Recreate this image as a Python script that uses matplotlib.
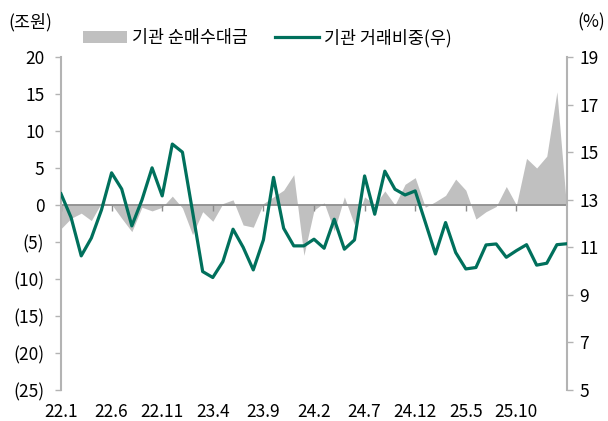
import numpy as np
import matplotlib
matplotlib.use('Agg')
import matplotlib.pyplot as plt

plt.rcParams['font.family'] = ['Noto Sans CJK KR', 'DejaVu Sans']

# 월별 데이터 (22.1 ~ 26.3)
months = ['22.1', '22.2', '22.3', '22.4', '22.5', '22.6', '22.7', '22.8', '22.9', '22.10',
          '22.11', '22.12', '23.1', '23.2', '23.3', '23.4', '23.5', '23.6', '23.7', '23.8',
          '23.9', '23.10', '23.11', '23.12', '24.1', '24.2', '24.3', '24.4', '24.5', '24.6',
          '24.7', '24.8', '24.9', '24.10', '24.11', '24.12', '25.1', '25.2', '25.3', '25.4',
          '25.5', '25.6', '25.7', '25.8', '25.9', '25.10', '25.11', '25.12', '26.1', '26.2',
          '26.3']
# 기관 순매수대금 (조원)
net_buy = [-3.2, -1.8, -1.1, -2.1, 0.3, 0.1, -1.8, -3.6, -0.3, -0.8,
           -0.3, 1.2, -0.4, -4.0, -0.9, -2.2, 0.2, 0.7, -2.7, -3.0,
           0.2, 1.1, 2.0, 4.1, -6.8, -0.7, 0.3, -3.5, 1.1, -2.7,
           1.1, 0.0, 1.9, 0.0, 2.8, 3.7, -0.3, 0.45, 1.3, 3.5,
           2.0, -1.9, -0.9, -0.2, 2.5, 0.0, 6.3, 5.0, 6.6, 15.3,
           -1.0]
# 기관 거래비중 (%, 우축)
share = [13.25, 12.25, 10.64, 11.39, 12.57, 14.13, 13.45, 11.9, 12.99, 14.34,
         13.16, 15.34, 15.0, 12.5, 9.98, 9.73, 10.4, 11.76, 11.0, 10.05,
         11.31, 13.94, 11.8, 11.06, 11.06, 11.34, 10.96, 12.18, 10.92, 11.31,
         14.0, 12.39, 14.2, 13.44, 13.2, 13.37, 12.05, 10.72, 12.04, 10.78,
         10.09, 10.15, 11.1, 11.14, 10.58, 10.86, 11.11, 10.25, 10.33, 11.11,
         11.15]

tick_idx = [0, 5, 10, 15, 20, 25, 30, 35, 40, 45]
left_ticks = [20, 15, 10, 5, 0, -5, -10, -15, -20, -25]
right_ticks = [19, 17, 15, 13, 11, 9, 7, 5]

x = np.arange(len(months))
area_col = '#c0c0c0'
line_col = '#00705c'
spine_col = '#b3b3b3'
fs = 12.5

fig = plt.figure(figsize=(6.08, 4.21), dpi=100)
ax = fig.add_axes([0.1003, 0.0736, 0.8323, 0.791])

ax.fill_between(x, net_buy, 0, color=area_col, linewidth=0, label='기관 순매수대금')
ax.axhline(0, color='#8c8c8c', lw=1.3, zorder=2)
ax.set_xlim(0, len(months) - 1)
ax.set_ylim(-25, 20)
ax.set_yticks(left_ticks)
ax.set_yticklabels([str(v) if v >= 0 else '(%d)' % (-v) for v in left_ticks], fontsize=fs)

# x축 눈금은 0선 위에, 라벨은 아래쪽에
ax.spines['bottom'].set_position(('data', 0))
ax.spines['bottom'].set_visible(False)
ax.spines['top'].set_visible(False)
ax.spines['right'].set_visible(False)
ax.spines['left'].set_color(spine_col)
ax.spines['left'].set_linewidth(1.5)
ax.set_xticks(tick_idx)
ax.tick_params(axis='x', length=4, width=1, color='#8c8c8c', labelbottom=False)
ax.tick_params(axis='y', length=4, width=1, color=spine_col, pad=8)

sec = ax.secondary_xaxis('bottom')
sec.set_xticks(tick_idx)
sec.set_xticklabels([months[i] for i in tick_idx], fontsize=fs)
sec.tick_params(length=0, pad=9)
sec.spines['bottom'].set_visible(False)

ax2 = ax.twinx()
ax2.plot(x, share, color=line_col, lw=2.3, label='기관 거래비중(우)', zorder=3)
ax2.set_ylim(5, 19)
ax2.set_yticks(right_ticks)
ax2.set_yticklabels([str(v) for v in right_ticks], fontsize=fs)
for s in ['top', 'bottom', 'left']:
    ax2.spines[s].set_visible(False)
ax2.spines['right'].set_color(spine_col)
ax2.spines['right'].set_linewidth(1.5)
ax2.tick_params(axis='y', length=4, width=1, color=spine_col, pad=5)

fig.text(0.013, 0.948, '(조원)', fontsize=fs, va='center', ha='left')
fig.text(0.995, 0.948, '(%)', fontsize=fs, va='center', ha='right')

h1, l1 = ax.get_legend_handles_labels()
h2, l2 = ax2.get_legend_handles_labels()
fig.legend(h1 + h2, l1 + l2, loc='center', bbox_to_anchor=(0.44, 0.91), ncol=2,
           frameon=False, fontsize=fs, handlelength=2.5, handletextpad=0.3,
           columnspacing=1.6)

fig.savefig('out.png', dpi=100)
